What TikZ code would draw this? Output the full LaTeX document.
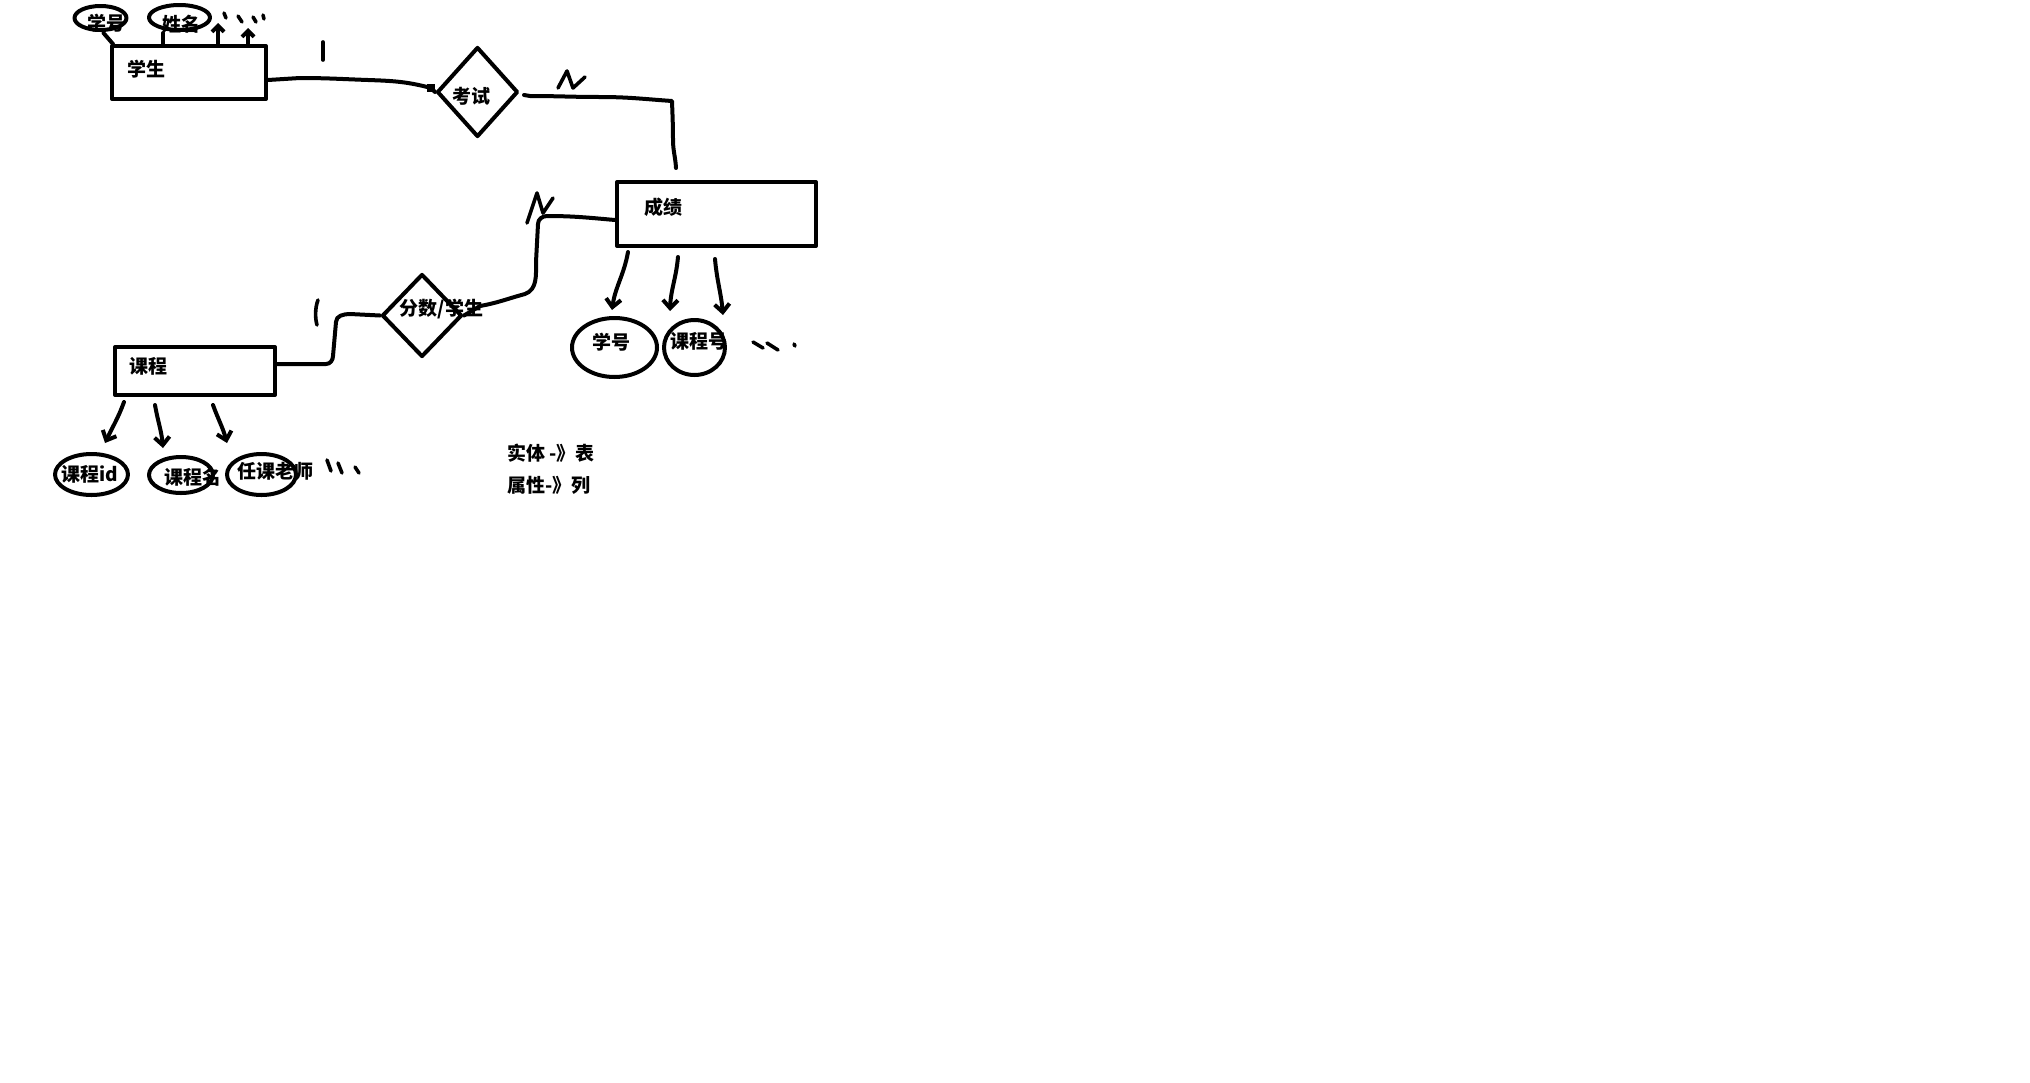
\documentclass[tikz,border=0pt]{standalone}
\usepackage{fontspec}
\newfontfamily\cjk{Noto Sans CJK SC}
\usetikzlibrary{shapes.geometric,arrows.meta,calc}
\begin{document}
\begin{tikzpicture}[x=1pt,y=-1pt, line width=4pt, line cap=round, line join=round,
  ent/.style={draw, rectangle, inner sep=0pt},
  rel/.style={draw, diamond, inner sep=0pt},
  attr/.style={draw, ellipse, inner sep=0pt},
  lbl/.style={inner sep=0pt, font=\cjk\bfseries\fontsize{19}{21}\selectfont},
  arr/.style={-{Straight Barb[length=8pt,width=15pt]}},
  arrsmall/.style={-{Straight Barb[length=6pt,width=12pt]}},
  handstroke/.style={line width=3.6pt}
]
\fill[white] (0,0) rectangle (2030,1082);
\useasboundingbox (0,0) rectangle (2030,1082);

% entities
\node[ent, minimum width=154pt, minimum height=53pt] (s) at (189,72.5) {};
\node[ent, minimum width=199pt, minimum height=64pt] (g) at (716.5,214) {};
\node[ent, minimum width=160pt, minimum height=48pt] (c) at (195,371) {};
% relations
\node[rel, minimum width=81pt, minimum height=90pt] (r1) at (477.5,92) {};
\node[rel, minimum width=80pt, minimum height=83pt] (r2) at (422,315.5) {};
\node[fill, draw=none, minimum size=8pt, inner sep=0pt] (sq) at (431,88) {};
% attributes
\node[attr, minimum width=52pt, minimum height=24pt] (e1) at (100.5,18) {};
\node[attr, minimum width=61pt, minimum height=25pt] (e2) at (179.5,17.5) {};
\node[attr, minimum width=85pt, minimum height=59pt] (e3) at (614.5,347.5) {};
\node[attr, minimum width=61pt, minimum height=55pt] (e4) at (694.5,347.5) {};
\node[attr, minimum width=73pt, minimum height=41pt] (e5) at (91.5,474.5) {};
\node[attr, minimum width=64pt, minimum height=36pt] (e6) at (181,475) {};
\node[attr, minimum width=69pt, minimum height=41pt] (e7) at (261.5,474.5) {};

% connectors
\draw ([yshift=-7.5pt]s.east) -- (300,78) to[out=0,in=178] (368,80) to[out=-2,in=165] (sq.center) -- (r1.west);
\draw ([xshift=4pt,yshift=-3pt]r1.east) -- (530,96) to[out=0,in=180] (600,97) to[out=0,in=176] (672,101)
      to[out=-88,in=90] (673,140) to[out=-90,in=93] ([xshift=-40.5pt,yshift=12pt]g.north);
\draw ([yshift=-6pt]g.west) to[out=175,in=0] (547,216) to[out=180,in=90] (538,224) -- (536,262)
      to[out=-90,in=20] (525,294) to[out=-165,in=10] (480,306) -- (r2.east);
\draw (r2.west) -- (350,314) to[out=180,in=90] (336,322) -- (333,356) to[out=-90,in=0] (326,364) -- ([yshift=7pt]c.east);

% student attributes
\draw ([xshift=3pt]s.north west) -- ([xshift=3pt,yshift=-1pt]e1.south);
\draw ([xshift=-26pt]s.north) -- ([xshift=-16.5pt,yshift=-1pt]e2.south);
\coordinate (u1) at (218,23);
\coordinate (u2) at (248,28);
\draw[arrsmall] ([xshift=29pt]s.north) -- (u1);
\draw[arrsmall] ([xshift=59pt]s.north) -- (u2);

% score attributes
\draw[arr] ([xshift=-88.5pt,yshift=-4pt]g.south) to[out=-100,in=82] ([xshift=-2.5pt,yshift=6pt]e3.north);
\draw[arr] ([xshift=-38.5pt,yshift=-9pt]g.south) to[out=-95,in=88] ([xshift=-24.5pt,yshift=7pt]e4.north);
\draw[arr] ([xshift=-1.5pt,yshift=-11pt]g.south) to[out=-85,in=95] ([xshift=28.5pt,yshift=3pt]e4.north);

% course attributes
\draw[arr] ([xshift=-71pt,yshift=-5pt]c.south) to[out=-110,in=65] ([xshift=13.5pt,yshift=9pt]e5.north);
\draw[arr] ([xshift=-40pt,yshift=-8pt]c.south) to[out=-80,in=95] ([xshift=-18pt,yshift=7pt]e6.north);
\draw[arr] ([xshift=18pt,yshift=-8pt]c.south) to[out=-70,in=105] ([xshift=-34.5pt,yshift=9pt]e7.north);

% hand-drawn cardinality marks
\draw[handstroke] (323,42) -- (323,60);
\draw[handstroke] (558,88) -- (567,71) -- (573,88) -- (585,77);
\draw[handstroke] (527,223) -- (537,193) -- (543,213) -- (553,198);
\draw[handstroke] (318,300) .. controls (315,308) and (315,318) .. (317,325);

% dots
\draw[handstroke] (224,13) -- (226,18);
\draw[handstroke] (238,16) -- (242,22);
\draw[handstroke] (253,17) -- (256,22);
\draw[handstroke] (263,15) -- (264,19);
\draw[handstroke] (753,342) -- (763,348);
\draw[handstroke] (767,343) -- (778,350);
\draw[handstroke] (794,344) -- (795,346);
\draw[handstroke] (327,460) -- (331,471);
\draw[handstroke] (338,463) -- (342,473);
\draw[handstroke] (355,467) -- (359,473);

% labels
\node[lbl] (ts) at (146,69) {学生};
\node[lbl] (tr1) at (471.5,96.5) {考试};
\node[lbl] (tg) at (663.5,207.5) {成绩};
\node[lbl] (tc) at (148.5,366.5) {课程};
\node[lbl] (tr2) at (441.5,309.5) {分数/学生};
\node[lbl] (t1) at (106.5,23) {学号};
\node[lbl] (t2) at (181,24) {姓名};
\node[lbl] (t3) at (611,342.5) {学号};
\node[lbl] (t4) at (698.5,341) {课程号};
\node[lbl] (t5) at (90,474) {课程id};
\node[lbl] (t6) at (192.5,477) {课程名};
\node[lbl] (t7) at (275.5,471) {任课老师};
\node[lbl, anchor=west] (n1) at (505,453) {实体 -》表};
\node[lbl, anchor=west] (n2) at (505,485) {属性-》列};
\end{tikzpicture}
\end{document}
